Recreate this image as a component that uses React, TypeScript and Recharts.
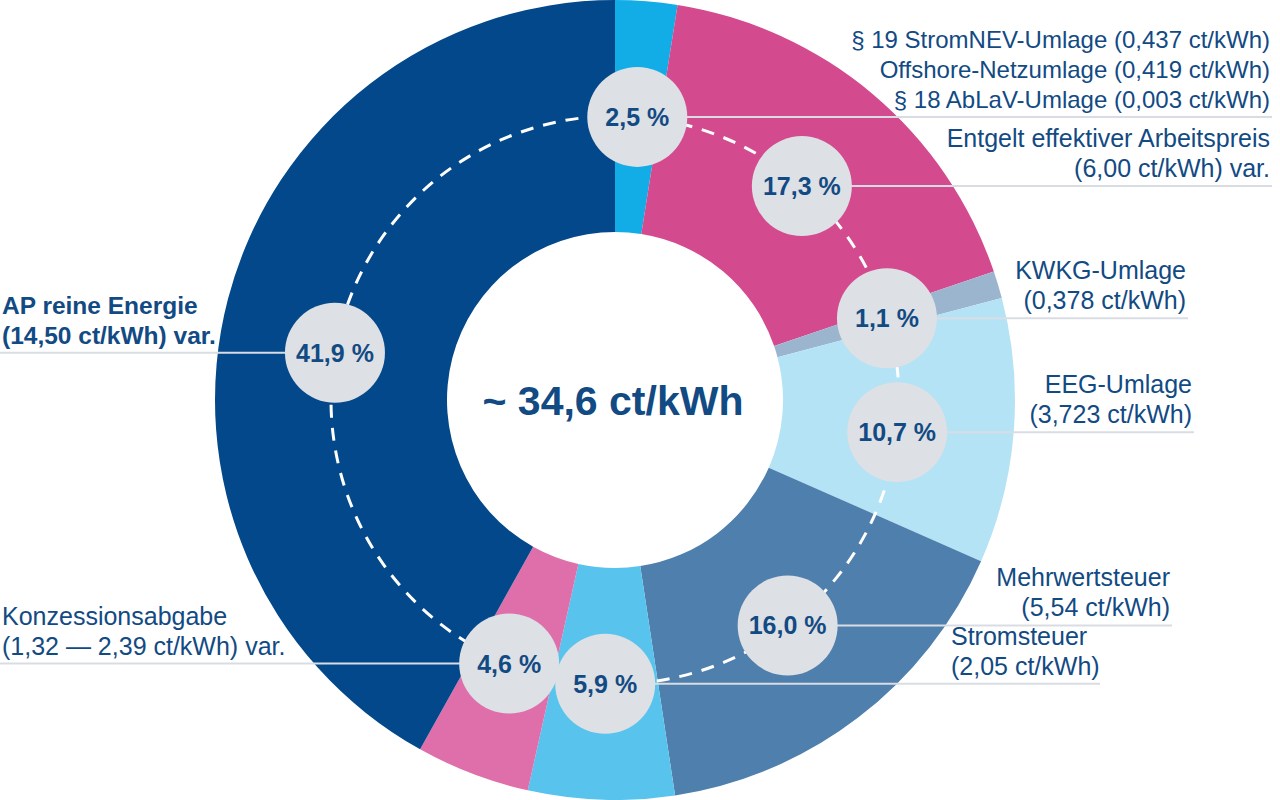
import React from 'react';
import { PieChart, Pie, Cell } from 'recharts';

// Price components, clockwise from 12 o'clock
const segments = [
  'Umlagen',
  'Entgelt effektiver Arbeitspreis',
  'KWKG-Umlage',
  'EEG-Umlage',
  'Mehrwertsteuer',
  'Stromsteuer',
  'Konzessionsabgabe',
  'AP reine Energie',
];
const shares = [2.5, 17.3, 1.1, 10.7, 16.0, 5.9, 4.6, 41.9];
const captions: string[][] = [
  ['§ 19 StromNEV-Umlage (0,437 ct/kWh)', 'Offshore-Netzumlage (0,419 ct/kWh)', '§ 18 AbLaV-Umlage (0,003 ct/kWh)'],
  ['Entgelt effektiver Arbeitspreis', '(6,00 ct/kWh) var.'],
  ['KWKG-Umlage', '(0,378 ct/kWh)'],
  ['EEG-Umlage', '(3,723 ct/kWh)'],
  ['Mehrwertsteuer', '(5,54 ct/kWh)'],
  ['Stromsteuer', '(2,05 ct/kWh)'],
  ['Konzessionsabgabe', '(1,32 — 2,39 ct/kWh) var.'],
  ['AP reine Energie', '(14,50 ct/kWh) var.'],
];
const totalPrice = 34.6;

const colors = ['#12ace6', '#d44a8e', '#9cb5cf', '#b4e3f6', '#4f7fac', '#58c4ee', '#de6faa', '#03488a'];

// where each leader line ends and how its caption hangs off it
const callouts: { lineEnd: number; textX: number; anchor: 'start' | 'end'; size: number }[] = [
  { lineEnd: 1272, textX: 1270, anchor: 'end', size: 24 },
  { lineEnd: 1272, textX: 1270, anchor: 'end', size: 25 },
  { lineEnd: 1188, textX: 1186, anchor: 'end', size: 25 },
  { lineEnd: 1194, textX: 1192, anchor: 'end', size: 25 },
  { lineEnd: 1172, textX: 1170, anchor: 'end', size: 25 },
  { lineEnd: 1100, textX: 951, anchor: 'start', size: 25 },
  { lineEnd: 0, textX: 2, anchor: 'start', size: 25 },
  { lineEnd: 0, textX: 2, anchor: 'start', size: 24.5 },
];
// small shifts of the percent bubbles away from the exact mid angle
const angleNudge = [0, -1, 0, -2, 0, 0, -1, 5];

const FONT = '"Liberation Sans", Arial, Helvetica, sans-serif';
const TEXT = '#124a83';
const RAD = Math.PI / 180;
const LABEL_R = 284;

const fmt = (v: number) => v.toFixed(1).replace('.', ',');

const data = segments.map((name, i) => ({ name, value: shares[i] }));

const renderLabel = (props: any) => {
  const { cx, cy, midAngle, index } = props;
  const a = (midAngle + angleNudge[index]) * RAD;
  const x = cx + LABEL_R * Math.cos(a);
  const y = cy - LABEL_R * Math.sin(a);
  const c = callouts[index];
  const lines = captions[index];

  return (
    <g key={`label-${index}`}>
      {index === 0 && (
        <>
          <circle cx={cx} cy={cy} r={LABEL_R} fill="none" stroke="#ffffff" strokeWidth={3} strokeDasharray="13 10" />
          <text x={cx - 2} y={cy + 15} textAnchor="middle" fontFamily={FONT} fontSize={41} fontWeight="bold" fill={TEXT}>
            ~ {fmt(totalPrice)} ct/kWh
          </text>
        </>
      )}
      <line x1={x} y1={y} x2={c.lineEnd} y2={y} stroke="#d9dde3" strokeWidth={2} />
      <circle cx={x} cy={y} r={50} fill="#dde0e4" />
      <text x={x} y={y + 9} textAnchor="middle" fontFamily={FONT} fontSize={25} fontWeight="bold" fill={TEXT}>
        {fmt(shares[index])} %
      </text>
      {lines.map((t, i) => (
        <text
          key={i}
          x={c.textX}
          y={y - 9 - (lines.length - 1 - i) * 30}
          textAnchor={c.anchor}
          fontFamily={FONT}
          fontSize={c.size}
          fontWeight={index === 7 ? 'bold' : 'normal'}
          fill={TEXT}
        >
          {t}
        </text>
      ))}
    </g>
  );
};

const App: React.FC = () => {
  return (
    <div style={{ position: 'absolute', left: 0, top: 0, width: 1280, height: 800, background: '#ffffff', fontFamily: FONT }}>
      <PieChart width={1280} height={800} margin={{ top: 0, right: 0, bottom: 0, left: 0 }}>
        <Pie
          data={data}
          dataKey="value"
          nameKey="name"
          cx={615}
          cy={400}
          innerRadius={168}
          outerRadius={400}
          startAngle={90}
          endAngle={-270}
          stroke="none"
          label={renderLabel}
          labelLine={false}
          isAnimationActive={false}
        >
          {data.map((entry, index) => (
            <Cell key={`cell-${index}`} fill={colors[index]} />
          ))}
        </Pie>
      </PieChart>
    </div>
  );
};

export default App;
